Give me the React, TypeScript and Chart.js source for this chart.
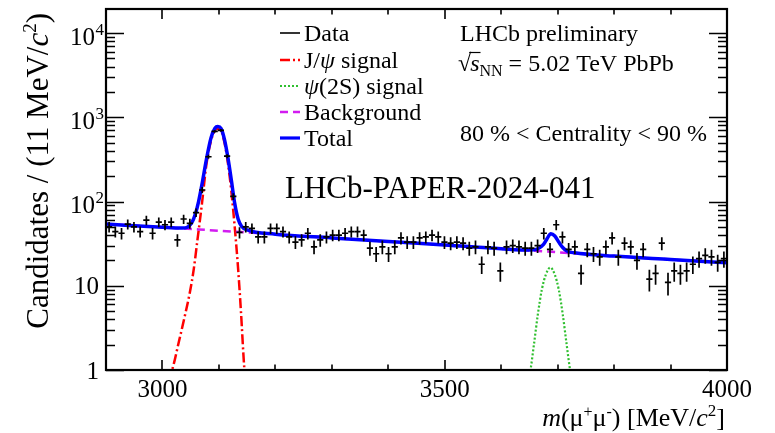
import React, { useEffect, useRef } from "react";
import { Chart, registerables } from "chart.js";
Chart.register(...registerables);

// ---- data ----
const binCenters = [
  2905.5, 2916.5, 2927.5, 2938.5, 2949.5, 2960.5, 2971.5, 2982.5, 2993.5, 3004.5,
  3015.5, 3026.5, 3037.5, 3048.5, 3059.5, 3070.5, 3081.5, 3092.5, 3103.5, 3114.5,
  3125.5, 3136.5, 3147.5, 3158.5, 3169.5, 3180.5, 3191.5, 3202.5, 3213.5, 3224.5,
  3235.5, 3246.5, 3257.5, 3268.5, 3279.5, 3290.5, 3301.5, 3312.5, 3323.5, 3334.5,
  3345.5, 3356.5, 3367.5, 3378.5, 3389.5, 3400.5, 3411.5, 3422.5, 3433.5, 3444.5,
  3455.5, 3466.5, 3477.5, 3488.5, 3499.5, 3510.5, 3521.5, 3532.5, 3543.5, 3554.5,
  3565.5, 3576.5, 3587.5, 3598.5, 3609.5, 3620.5, 3631.5, 3642.5, 3653.5, 3664.5,
  3675.5, 3686.5, 3697.5, 3708.5, 3719.5, 3730.5, 3741.5, 3752.5, 3763.5, 3774.5,
  3785.5, 3796.5, 3807.5, 3818.5, 3829.5, 3840.5, 3851.5, 3862.5, 3873.5, 3884.5,
  3895.5, 3906.5, 3917.5, 3928.5, 3939.5, 3950.5, 3961.5, 3972.5, 3983.5, 3994.5,
];
const counts = [
  50, 44, 42, 54, 50, 44, 60, 42, 57, 53,
  57, 35, 62, 55, 74, 137, 340, 680, 700, 345,
  115, 43, 50, 48, 38, 38, 48, 48, 44, 38,
  33, 35, 42, 29, 35, 38, 40, 40, 42, 44,
  44, 40, 28, 24, 29, 24, 29, 37, 33, 33,
  37, 38, 40, 38, 33, 32, 33, 32, 28, 29,
  18, 29, 28, 15, 29, 30, 29, 28, 28, 30,
  42, 27, 53, 38, 27, 29, 14, 27, 24, 22,
  29, 37, 22, 32, 29, 20, 27, 12, 14, 32,
  11, 15, 14, 15, 18, 21, 23, 22, 19, 21,
];

const totalX = [2900, 3000, 3035, 3045, 3052, 3058, 3064, 3070, 3078, 3086, 3093, 3098, 3104, 3110, 3116, 3122, 3128, 3134, 3140, 3150, 3200, 3300, 3400, 3500, 3600, 3650, 3665, 3675, 3681, 3688, 3695, 3702, 3709, 3717, 3730, 3800, 3900, 4000];
const totalY = [54, 49.5, 48.5, 50, 56, 70, 100, 160, 320, 570, 740, 775, 735, 540, 330, 180, 95, 62, 51, 46, 41, 37, 33.5, 30.5, 27.5, 26.5, 27.5, 31, 36, 41.5, 39, 33, 28.5, 25.7, 24.6, 22.5, 20.5, 18.7];

const bkgX = [2900, 3000, 3100, 3200, 3300, 3400, 3500, 3600, 3700, 3800, 3900, 4000];
const bkgY = [54, 49.5, 45, 41, 37, 33.5, 30.5, 27.5, 25, 22.5, 20.5, 18.7];

const jpsiX = [3008, 3017, 3030, 3040, 3048, 3055, 3062, 3070, 3078, 3086, 3093, 3098, 3104, 3110, 3116, 3122, 3128, 3134, 3139, 3145, 3150];
const jpsiY = [0.75, 1, 2.3, 4.5, 8, 15, 35, 95, 280, 525, 700, 730, 690, 495, 285, 133, 50, 16, 5, 1.05, 0.5];

const psiX = [3648, 3652, 3658, 3665, 3672, 3679, 3687, 3695, 3702, 3709, 3716, 3722, 3726];
const psiY = [0.7, 1.0, 2.0, 4.6, 9.0, 13.5, 16.5, 13.5, 9.0, 4.6, 2.0, 1.0, 0.7];

const xMajorLabels = [3000, 3500, 4000];
const yDecadeLabels = [1, 10, 100, 1000, 10000];

// ---- helpers ----
const SERIF = '"Liberation Serif", "Times New Roman", serif';
type Seg = { t: string; size: number; italic?: boolean; dy?: number };
const fontOf = (s: Seg) => `${s.italic ? "italic " : ""}${s.size}px ${SERIF}`;
function segsWidth(ctx: CanvasRenderingContext2D, segs: Seg[]) {
  let w = 0;
  for (const s of segs) {
    ctx.font = fontOf(s);
    w += ctx.measureText(s.t).width;
  }
  return w;
}
function drawSegs(ctx: CanvasRenderingContext2D, segs: Seg[], x: number, y: number) {
  let cx = x;
  for (const s of segs) {
    ctx.font = fontOf(s);
    ctx.fillText(s.t, cx, y + (s.dy || 0));
    cx += ctx.measureText(s.t).width;
  }
  return cx;
}

const COL = {
  red: "#ff0000",
  green: "#2fbf2f",
  magenta: "#d21cf0",
  blue: "#0000ff",
};
const DASH = {
  red: [10, 3, 2, 3],
  green: [2, 2],
  magenta: [8, 5],
};

const overlay = {
  id: "overlay",
  afterDatasetsDraw(chart: any) {
    const { ctx, chartArea: a, scales } = chart;
    const x = scales.x;
    const y = scales.y;
    const pts = chart.data.datasets[0].data as { x: number; y: number }[];
    ctx.save();
    ctx.beginPath();
    ctx.rect(a.left, a.top, a.right - a.left, a.bottom - a.top);
    ctx.clip();
    ctx.strokeStyle = "#000";
    ctx.lineWidth = 1.7;
    for (const p of pts) {
      const e = Math.sqrt(p.y);
      const px = x.getPixelForValue(p.x);
      const py = y.getPixelForValue(p.y);
      ctx.beginPath();
      ctx.moveTo(px, y.getPixelForValue(p.y + e));
      ctx.lineTo(px, y.getPixelForValue(Math.max(p.y - e, 0.5)));
      ctx.moveTo(x.getPixelForValue(p.x - 5.5), py);
      ctx.lineTo(x.getPixelForValue(p.x + 5.5), py);
      ctx.stroke();
    }
    ctx.restore();
  },
  afterDraw(chart: any) {
    const { ctx, chartArea: a, scales } = chart;
    const x = scales.x;
    const y = scales.y;
    ctx.save();
    ctx.fillStyle = "#000";
    ctx.strokeStyle = "#000";

    // ticks
    ctx.lineWidth = 1.6;
    ctx.beginPath();
    for (let v = 3000; v <= 4000; v += 100) {
      const px = Math.round(x.getPixelForValue(v));
      const len = v % 500 === 0 ? 10 : 5.5;
      ctx.moveTo(px, a.bottom);
      ctx.lineTo(px, a.bottom - len);
      ctx.moveTo(px, a.top);
      ctx.lineTo(px, a.top + len);
    }
    const yMax = y.max;
    for (let d = 1; d <= 10000; d *= 10) {
      for (let k = 1; k <= 9; k++) {
        const v = k * d;
        if (v > yMax) continue;
        const py = Math.round(y.getPixelForValue(v)) + 0.5;
        const len = k === 1 ? 18 : 9;
        ctx.moveTo(a.left, py);
        ctx.lineTo(a.left + len, py);
        ctx.moveTo(a.right, py);
        ctx.lineTo(a.right - len, py);
      }
    }
    ctx.stroke();

    // frame
    ctx.lineWidth = 2.2;
    ctx.strokeRect(a.left, a.top, a.right - a.left, a.bottom - a.top);

    // x tick labels
    ctx.textBaseline = "alphabetic";
    ctx.textAlign = "center";
    ctx.font = `25px ${SERIF}`;
    for (const v of xMajorLabels) {
      ctx.fillText(String(v), x.getPixelForValue(v), 397);
    }
    // y tick labels
    ctx.textAlign = "left";
    for (const v of yDecadeLabels) {
      const py = y.getPixelForValue(v);
      const exp = Math.round(Math.log10(v));
      if (exp <= 1) {
        const t = String(v);
        ctx.font = `25px ${SERIF}`;
        const w = ctx.measureText(t).width;
        ctx.fillText(t, 99 - w, py + 8.5);
      } else {
        ctx.font = `25px ${SERIF}`;
        const w = ctx.measureText("10").width;
        ctx.fillText("10", 95 - w, py + 11.5);
        ctx.font = `17px ${SERIF}`;
        ctx.fillText(String(exp), 95.5, py + 1.5);
      }
    }

    // x axis title
    const xt: Seg[] = [
      { t: "m", size: 26, italic: true },
      { t: "(\u03bc", size: 26 },
      { t: "+", size: 16, dy: -9 },
      { t: "\u03bc", size: 26 },
      { t: "-", size: 16, dy: -9 },
      { t: ") [MeV/", size: 26 },
      { t: "c", size: 26, italic: true },
      { t: "2", size: 17, dy: -10 },
      { t: "]", size: 26 },
    ];
    const xtw = segsWidth(ctx, xt);
    drawSegs(ctx, xt, 725 - xtw, 426);

    // y axis title (rotated)
    const yt: Seg[] = [
      { t: "Candidates / (11 MeV/", size: 31 },
      { t: "c", size: 31, italic: true },
      { t: "2", size: 19, dy: -12 },
      { t: ")", size: 31 },
    ];
    const ytw = segsWidth(ctx, yt);
    ctx.save();
    ctx.rotate(-Math.PI / 2);
    drawSegs(ctx, yt, -13 - ytw, 48);
    ctx.restore();

    // legend
    const lx0 = 280;
    const lx1 = 300;
    const tx = 304;
    const rows: { c: string; dash: number[]; w: number; segs: Seg[]; yc: number }[] = [
      { c: "#000", dash: [], w: 1.6, segs: [{ t: "Data", size: 24 }], yc: 33 },
      { c: COL.red, dash: DASH.red, w: 2.5, segs: [{ t: "J/", size: 24 }, { t: "\u03c8", size: 24, italic: true }, { t: " signal", size: 24 }], yc: 60 },
      { c: COL.green, dash: DASH.green, w: 2.2, segs: [{ t: "\u03c8", size: 24, italic: true }, { t: "(2S) signal", size: 24 }], yc: 86 },
      { c: COL.magenta, dash: DASH.magenta, w: 2.5, segs: [{ t: "Background", size: 24 }], yc: 112 },
      { c: COL.blue, dash: [], w: 3.2, segs: [{ t: "Total", size: 24 }], yc: 138 },
    ];
    for (const r of rows) {
      ctx.save();
      ctx.strokeStyle = r.c;
      ctx.lineWidth = r.w;
      ctx.setLineDash(r.dash);
      ctx.beginPath();
      ctx.moveTo(lx0, r.yc);
      ctx.lineTo(lx1, r.yc);
      ctx.stroke();
      ctx.restore();
      ctx.fillStyle = "#000";
      drawSegs(ctx, r.segs, tx, r.yc + 8);
    }

    // right texts
    drawSegs(ctx, [{ t: "LHCb preliminary", size: 24 }], 460, 41);
    {
      ctx.font = `24px ${SERIF}`;
      const rw = ctx.measureText("\u221a").width;
      ctx.fillText("\u221a", 458, 71);
      const sx = 458 + rw - 1;
      ctx.font = `italic 24px ${SERIF}`;
      const sw = ctx.measureText("s").width;
      ctx.beginPath();
      ctx.lineWidth = 1.2;
      ctx.moveTo(sx - 1, 52.5);
      ctx.lineTo(sx + sw + 1, 52.5);
      ctx.stroke();
      drawSegs(
        ctx,
        [
          { t: "s", size: 24, italic: true },
          { t: "NN", size: 16, dy: 5 },
          { t: " = 5.02 TeV PbPb", size: 24 },
        ],
        sx,
        71
      );
    }
    drawSegs(ctx, [{ t: "80 % < Centrality < 90 %", size: 24 }], 460, 141);
    drawSegs(ctx, [{ t: "LHCb-PAPER-2024-041", size: 31 }], 285, 198);

    ctx.restore();
  },
};

const toPts = (xs: number[], ys: number[]) => xs.map((v, i) => ({ x: v, y: ys[i] }));

export default function App() {
  const ref = useRef<HTMLCanvasElement | null>(null);
  useEffect(() => {
    if (!ref.current) return;
    const curve = (label: string, xs: number[], ys: number[], color: string, dash: number[], width: number, order: number) => ({
      label,
      data: toPts(xs, ys),
      showLine: true,
      borderColor: color,
      backgroundColor: color,
      borderWidth: width,
      borderDash: dash,
      pointRadius: 0,
      pointHoverRadius: 0,
      cubicInterpolationMode: "monotone" as const,
      fill: false,
      clip: 0,
      order,
    });
    const chart = new Chart(ref.current, {
      type: "scatter",
      data: {
        datasets: [
          {
            label: "Data",
            data: toPts(binCenters, counts),
            pointRadius: 0,
            pointHoverRadius: 0,
            showLine: false,
            borderColor: "#000",
            backgroundColor: "#000",
            order: 0,
          },
          curve("Total", totalX, totalY, COL.blue, [], 3.5, 1),
          curve("Background", bkgX, bkgY, COL.magenta, DASH.magenta, 2.5, 2),
          curve("J/psi signal", jpsiX, jpsiY, COL.red, DASH.red, 2.5, 3),
          curve("psi(2S) signal", psiX, psiY, COL.green, DASH.green, 2.2, 4),
        ] as any,
      },
      options: {
        animation: false,
        responsive: false,
        devicePixelRatio: 1,
        events: [],
        layout: { padding: { left: 0, right: 48, top: 9, bottom: 0 } },
        plugins: { legend: { display: false }, tooltip: { enabled: false }, title: { display: false } },
        scales: {
          x: {
            type: "linear",
            min: 2900,
            max: 4000,
            grid: { display: false },
            border: { display: false },
            ticks: { display: false },
            afterFit: (s: any) => {
              s.height = 63;
            },
          },
          y: {
            type: "logarithmic",
            min: 1,
            max: 19300,
            grid: { display: false },
            border: { display: false },
            ticks: { display: false },
            afterFit: (s: any) => {
              s.width = 106;
            },
          },
        },
      } as any,
      plugins: [overlay],
    });
    return () => chart.destroy();
  }, []);
  return (
    <div style={{ position: "absolute", left: 0, top: 0, width: 775, height: 433, background: "#fff" }}>
      <canvas ref={ref} width={775} height={433} style={{ width: 775, height: 433, display: "block" }} />
    </div>
  );
}
